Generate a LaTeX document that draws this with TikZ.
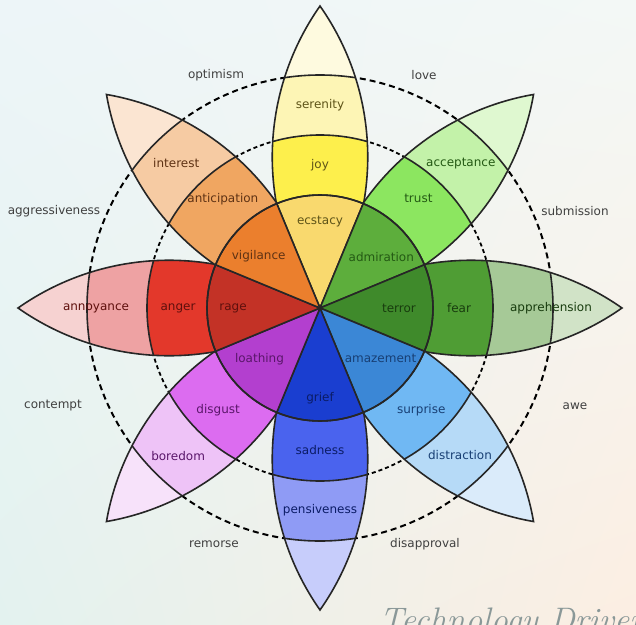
\documentclass[tikz,border=0pt]{standalone}
\usepackage{fontspec}
\setsansfont{DejaVu Sans}
\usetikzlibrary{shadings}
\definecolor{bgA}{HTML}{EDF5F8}
\definecolor{bgB}{HTML}{F3F8F6}
\definecolor{bgC}{HTML}{E3F2EF}
\definecolor{bgD}{HTML}{FCEEE2}
\definecolor{yelA}{HTML}{F9D96E}
\definecolor{yelB}{HTML}{FDEF4C}
\definecolor{yelC}{HTML}{FDF5B5}
\definecolor{yelD}{HTML}{FEFADF}
\definecolor{yelT}{HTML}{5E5418}
\definecolor{grnA}{HTML}{5DAE3C}
\definecolor{grnB}{HTML}{8CE660}
\definecolor{grnC}{HTML}{C3F2A9}
\definecolor{grnD}{HTML}{DFF8D0}
\definecolor{grnT}{HTML}{245A14}
\definecolor{dgrA}{HTML}{3F8A2B}
\definecolor{dgrB}{HTML}{4F9D34}
\definecolor{dgrC}{HTML}{A6C997}
\definecolor{dgrD}{HTML}{D1E3C7}
\definecolor{dgrT}{HTML}{183C0E}
\definecolor{bluA}{HTML}{3B87D6}
\definecolor{bluB}{HTML}{70B8F3}
\definecolor{bluC}{HTML}{B6DAF7}
\definecolor{bluD}{HTML}{DAEBFA}
\definecolor{bluT}{HTML}{183F74}
\definecolor{dblA}{HTML}{1A3ED0}
\definecolor{dblB}{HTML}{4A63EE}
\definecolor{dblC}{HTML}{8F9BF5}
\definecolor{dblD}{HTML}{C7CDFB}
\definecolor{dblT}{HTML}{0B1C66}
\definecolor{purA}{HTML}{B33FCF}
\definecolor{purB}{HTML}{DC6CF0}
\definecolor{purC}{HTML}{EEC3F7}
\definecolor{purD}{HTML}{F7E2FA}
\definecolor{purT}{HTML}{5A166A}
\definecolor{redA}{HTML}{C33226}
\definecolor{redB}{HTML}{E3382B}
\definecolor{redC}{HTML}{EEA2A3}
\definecolor{redD}{HTML}{F6D2D1}
\definecolor{redT}{HTML}{5E100D}
\definecolor{oraA}{HTML}{EB7F2D}
\definecolor{oraB}{HTML}{F0A661}
\definecolor{oraC}{HTML}{F6CBA3}
\definecolor{oraD}{HTML}{FBE5D2}
\definecolor{oraT}{HTML}{5E3214}
\definecolor{wmk}{HTML}{8A9898}
\newcommand\petal{(0,0) arc[start angle=125.1,end angle=54.9,radius=262.6] arc[start angle=-54.9,end angle=-125.1,radius=262.6] -- cycle}

\begin{document}
\begin{tikzpicture}[x=1pt,y=1pt,
every node/.style={font=\sffamily\fontsize{12}{14}\selectfont},
band/.style={draw=black!85,line width=1.6pt},
ring/.style={line width=2pt,dash pattern=on 6pt off 4pt},
ringin/.style={line width=1.8pt,dash pattern=on 4pt off 3pt},
dyad/.style={text=black!75}]
\clip(-320,-316)rectangle(316,308);
\shade[upper left=bgA,upper right=bgB,lower left=bgC,lower right=bgD](-320,-316)rectangle(316,308);
\draw[ringin](0,0)circle(173);
\draw[ring](0,0)circle(233);
% petals
\foreach \ang/\hue in {90/yel,45/grn,0/dgr,-45/blu,-90/dbl,-135/pur,180/red,135/ora}{
\begin{scope}[rotate=\ang]
\begin{scope}
\clip \petal;
\fill[\hue D](0,0)circle(310);
\fill[\hue C](0,0)circle(233);
\fill[\hue B](0,0)circle(173);
\draw[band](0,0)circle(173)(0,0)circle(233);
\end{scope}
\draw[band]\petal;
\end{scope}
}
% inner circle
\foreach \ang/\hue in {90/yel,45/grn,0/dgr,-45/blu,-90/dbl,-135/pur,180/red,135/ora}{
\filldraw[fill=\hue A,band](0,0)--(\ang-22.5:113)arc[start angle=\ang-22.5,end angle=\ang+22.5,radius=113]--cycle;
}
\draw[band](0,0)circle(113);
\node[text=yelT]at(90:86)(ecstacy){ecstacy};
\node[text=yelT]at(90:143)(joy){joy};
\node[text=yelT]at(90:203)(serenity){serenity};
\node[text=grnT]at(40:80)(admiration){admiration};
\node[text=grnT]at(48:147)(trust){trust};
\node[text=grnT]at(45.8:202)(acceptance){acceptance};
\node[text=dgrT]at(0:79)(terror){terror};
\node[text=dgrT]at(0:139)(fear){fear};
\node[text=dgrT]at(0:231)(apprehension){apprehension};
\node[text=bluT]at(-40:79)(amazement){amazement};
\node[text=bluT]at(-45.3:144)(surprise){surprise};
\node[text=bluT]at(-46.4:203)(distraction){distraction};
\node[text=dblT]at(-90:90)(grief){grief};
\node[text=dblT]at(-90:142)(sadness){sadness};
\node[text=dblT]at(-90:202)(pensiveness){pensiveness};
\node[text=purT]at(-140:79)(loathing){loathing};
\node[text=purT]at(-135:144)(disgust){disgust};
\node[text=purT]at(-133.8:205)(boredom){boredom};
\node[text=redT]at(180:87)(rage){rage};
\node[text=redT]at(180:142)(anger){anger};
\node[text=redT]at(180:224)(annoyance){annoyance};
\node[text=oraT]at(140:80)(vigilance){vigilance};
\node[text=oraT]at(131.7:146)(anticipation){anticipation};
\node[text=oraT]at(134.8:204)(interest){interest};
% dyads
\node[dyad]at(-104,233)(optimism){optimism};
\node[dyad]at(104,233)(love){love};
\node[dyad]at(-266,97)(aggressiveness){aggressiveness};
\node[dyad]at(255,97)(submission){submission};
\node[dyad]at(-267,-98)(contempt){contempt};
\node[dyad]at(255,-98)(awe){awe};
\node[dyad]at(-106,-236)(remorse){remorse};
\node[dyad]at(105,-236)(disapproval){disapproval};
\node[anchor=base west,text=wmk,font=\rmfamily\itshape\fontsize{34}{36}\selectfont]at(56,-323)(mark){Technology Driven};
\end{tikzpicture}
\end{document}
